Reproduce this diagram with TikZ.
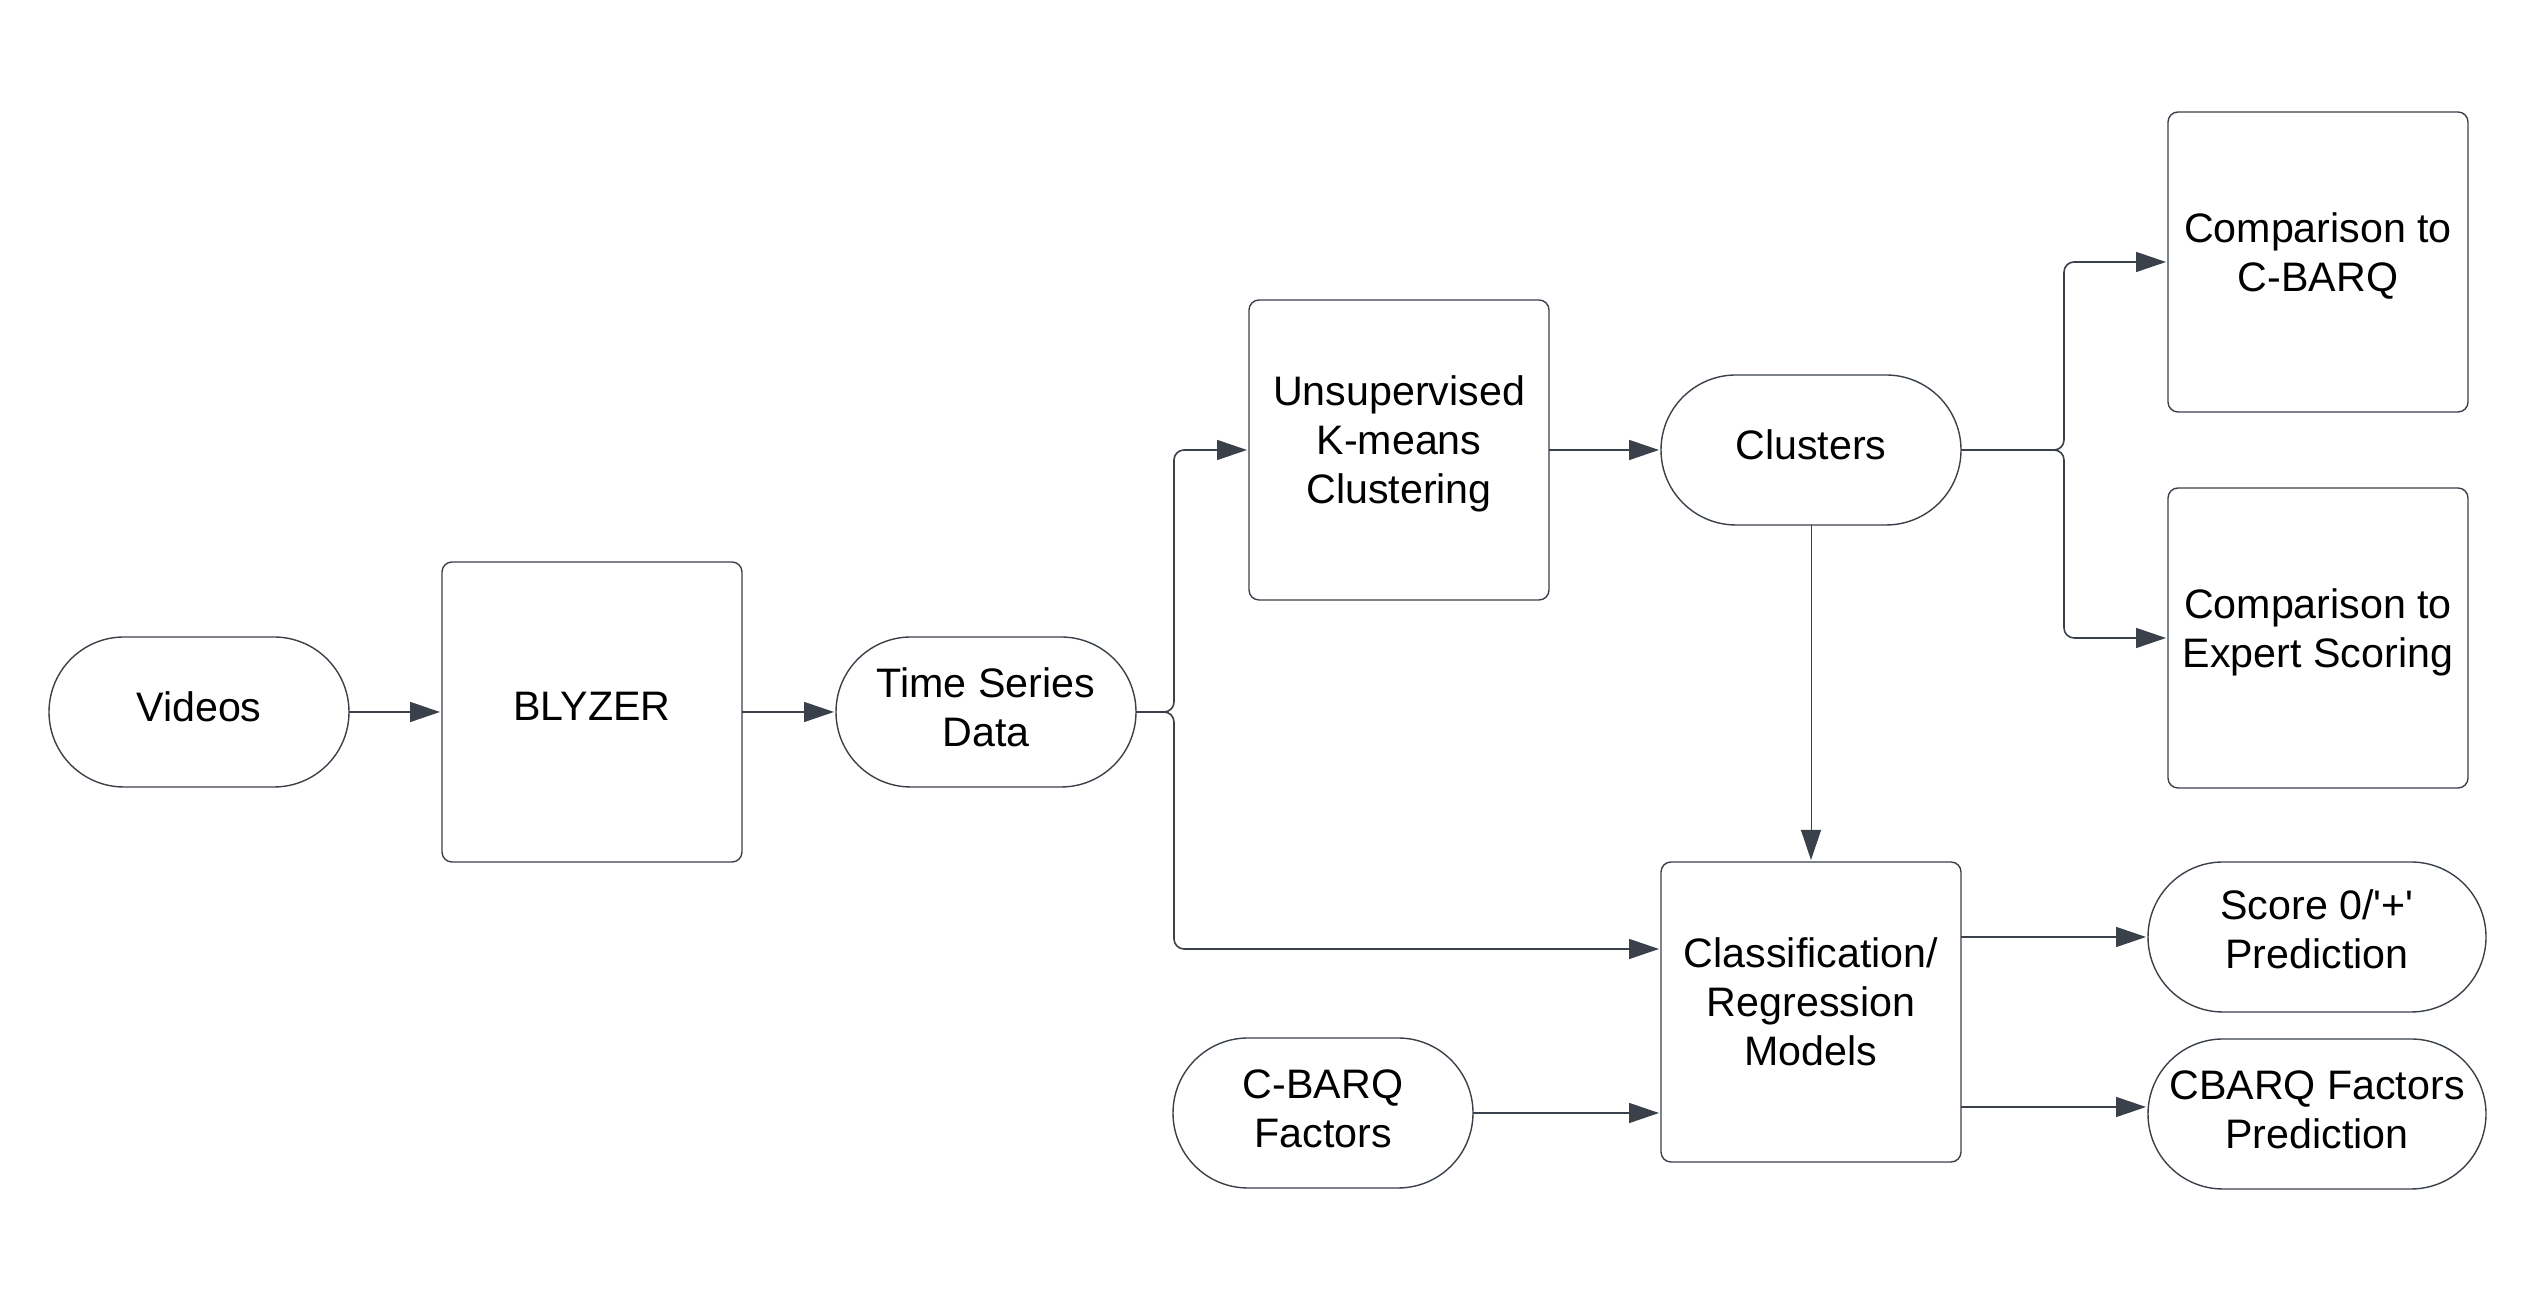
\documentclass[tikz,border=0pt]{standalone}
\usepackage{fontspec}
\setmainfont{Liberation Sans}
\usetikzlibrary{arrows.meta,shapes.misc}
\definecolor{linegrey}{HTML}{3A414A}
\newcommand\flowtext[2][0pt]{\raisebox{#1}[\height][\depth]{\begin{tabular}{@{}c@{}}#2\end{tabular}}}

\begin{document}
\begin{tikzpicture}[x=0.25pt, y=-0.25pt,
        chartnode/.style={
            font=\fontsize{10.3}{12.3}\selectfont,
            inner sep=0pt, outer sep=0pt,
            draw=linegrey, line width=0.35pt, fill=white
        },
        stepbox/.style={
            chartnode, rectangle, rounded corners=2.5pt,
            minimum width=75pt, minimum height=75pt
        },
        datapill/.style={
            chartnode, rounded rectangle,
            minimum width=75pt, minimum height=37.5pt
        },
        widepill/.style={
            datapill, minimum width=84.5pt
        },
        arr/.style={
            draw=linegrey, line width=0.4pt, rounded corners=2.5pt,
            -{Triangle[length=7.5pt,width=5pt]}, shorten >=0.5pt
        }]
    \useasboundingbox (0,0) rectangle (2539,1301);

    \node[datapill] (videos)   at (199,712)   {\flowtext{Videos}};
    \node[stepbox]  (blyzer)   at (592,712)   {\flowtext[0.4pt]{BLYZER}};
    \node[datapill] (series)   at (986,712)   {\flowtext{Time Series\\Data}};
    \node[stepbox]  (kmeans)   at (1399,450)  {\flowtext[1.4pt]{Unsupervised\\K-means\\Clustering}};
    \node[datapill] (clusters) at (1811,450)  {\flowtext{Clusters}};
    \node[stepbox]  (cmpcbarq) at (2318,262)  {\flowtext[1.2pt]{Comparison to\\C-BARQ}};
    \node[stepbox]  (cmpexpert) at (2318,638) {\flowtext[1.2pt]{Comparison to\\Expert Scoring}};
    \node[stepbox]  (models)   at (1811,1012) {\flowtext[1.4pt]{Classification/\\Regression\\Models}};
    \node[datapill] (factors)  at (1323,1113) {\flowtext{C-BARQ\\Factors}};
    \node[widepill] (scorepred) at (2317,937) {\flowtext[0.8pt]{Score 0/\textquotesingle+\textquotesingle\\Prediction}};
    \node[widepill] (factpred) at (2317,1114) {\flowtext{CBARQ Factors\\Prediction}};

    \coordinate (seriesfork) at (1174,712);
    \coordinate (clusterfork) at (2064,450);

    \draw[arr] (videos) -- (blyzer);
    \draw[arr] (blyzer) -- (series);
    \draw[arr] (series.east) -- (seriesfork) |- (kmeans.west);
    \draw[arr] (series.east) -- (seriesfork) |- ([yshift=15.75pt]models.west);
    \draw[arr] (kmeans) -- (clusters);
    \draw[arr] (clusters.east) -- (clusterfork) |- (cmpcbarq.west);
    \draw[arr] (clusters.east) -- (clusterfork) |- (cmpexpert.west);
    \draw[arr, line width=0.25pt] (clusters.south) -- (models.north);
    \draw[arr] (factors.east) -- (models.west |- factors.east);
    \draw[arr] (models.east |- scorepred.west) -- (scorepred.west);
    \draw[arr] ([yshift=1.75pt]models.east |- factpred.west) -- ([yshift=1.75pt]factpred.west);
\end{tikzpicture}
\end{document}
